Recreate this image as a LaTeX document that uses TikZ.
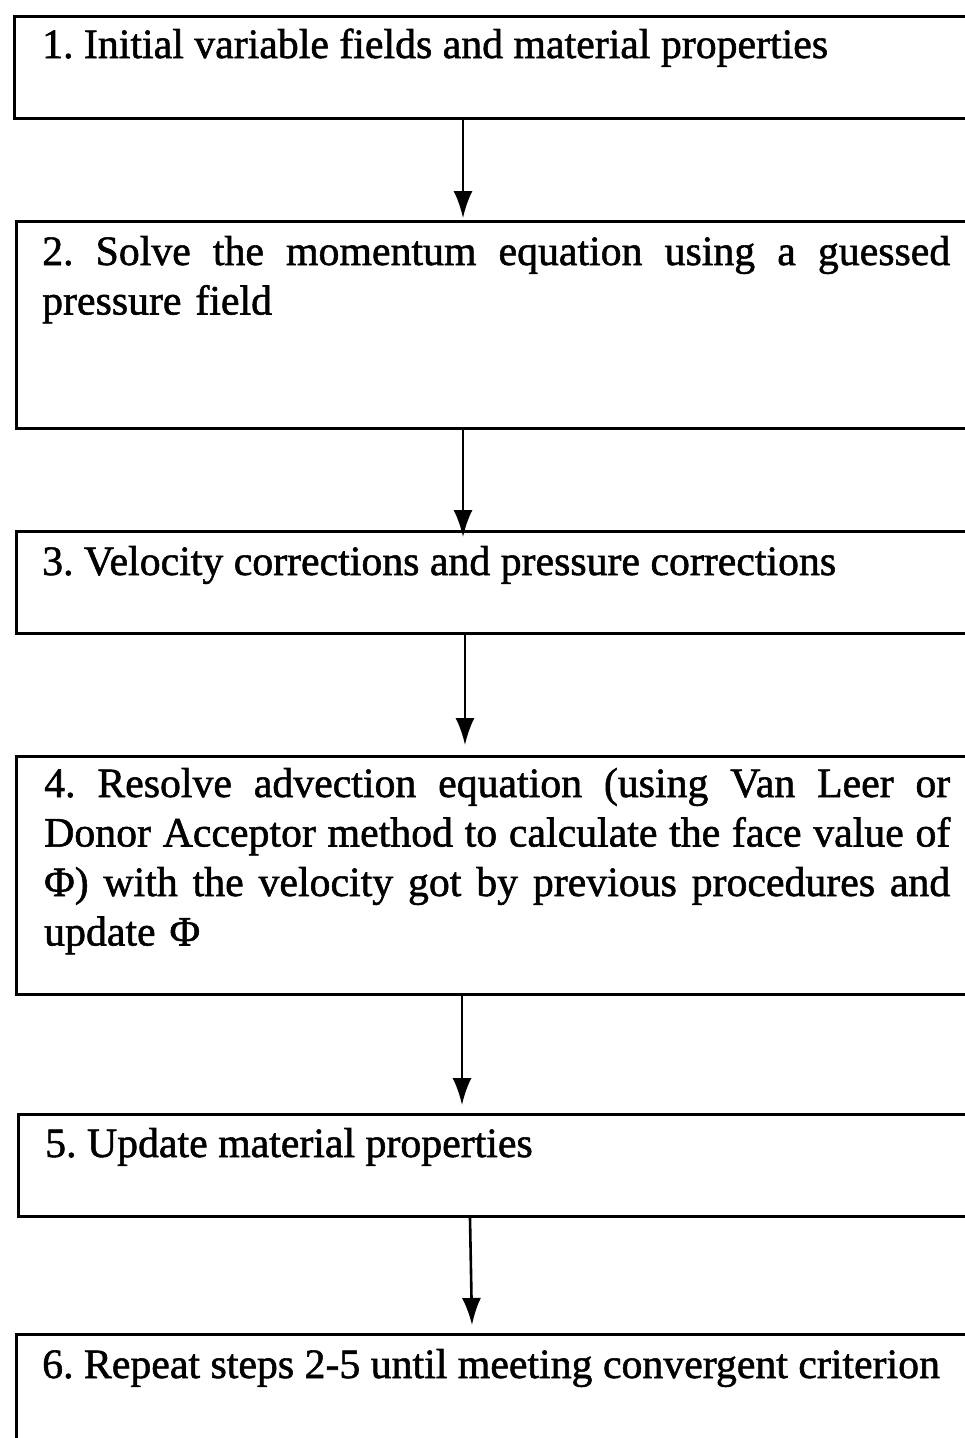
\documentclass[tikz,border=0pt]{standalone}
\usepackage{fontspec}
\setmainfont{Liberation Serif}[UprightFeatures={FakeBold=1.3}]
\usetikzlibrary{arrows.meta,calc}
\frenchspacing
\newcommand\jgap{\hskip 0.2em plus 1fil\relax}
\newcommand\jline[2]{\leavevmode\hbox to #1{#2}}
\tikzset{
  stepbox/.style={draw=black, line width=3.2pt, anchor=north west, inner sep=0pt, minimum width=1100pt},
  txt/.style={anchor=base west, inner sep=0pt, font=\fontsize{41.8}{49.5}\selectfont},
  jtxt/.style={txt, text width=#1, align=left},
  arr/.style={draw=black, line width=2.6pt, -{Latex[length=27pt,width=19pt]}}
}
\begin{document}
\begin{tikzpicture}[x=1pt,y=-1pt]
\useasboundingbox (0,0) rectangle (965,1438);
\fill[white] (0,0) rectangle (965,1438);
\clip (0,0) rectangle (965,1438);
% boxes
\node[stepbox, minimum height=102pt] (b1) at (13,15) {};
\node[stepbox, minimum height=207pt] (b2) at (15,220) {};
\node[stepbox, minimum height=102pt] (b3) at (15,530) {};
\node[stepbox, minimum height=238pt] (b4) at (15,755) {};
\node[stepbox, minimum height=102pt] (b5) at (17,1113) {};
\node[stepbox, minimum height=140pt] (b6) at (15,1333) {};
% texts
\node[txt] (t1) at (42,58) {1. Initial variable fields and material properties};
\node[jtxt=908pt] (t2) at (42,265) {\jline{908pt}{2.\jgap Solve\jgap the\jgap momentum\jgap equation\jgap using\jgap a\jgap guessed}\\pressure field};
\node[txt] (t3) at (42,575) {3. Velocity corrections and pressure corrections};
\node[jtxt=906pt] (t4) at (44,797) {\jline{906pt}{4.\jgap Resolve\jgap advection\jgap equation\jgap (using\jgap Van\jgap Leer\jgap or}\\\jline{906pt}{Donor\jgap Acceptor\jgap method\jgap to\jgap calculate\jgap the\jgap face\jgap value\jgap of}\\\jline{906pt}{Φ)\jgap with\jgap the\jgap velocity\jgap got\jgap by\jgap previous\jgap procedures\jgap and}\\update Φ};
\node[txt] (t5) at (45,1157) {5. Update material properties};
\node[txt] (t6) at (42,1378) {6. Repeat steps 2-5 until meeting convergent criterion};
% arrows
\draw[arr] ($(b1.south west)+(450,0)$) -- ($(b2.north west)+(448,-2)$);
\draw[arr] ($(b2.south west)+(448,0)$) -- ($(b3.north west)+(448,7)$);
\draw[arr] ($(b3.south west)+(450,0)$) -- ($(b4.north west)+(450,-10)$);
\draw[arr] ($(b4.south west)+(447,0)$) -- ($(b5.north west)+(445,-8)$);
\draw[arr] ($(b5.south west)+(453,0)$) -- ($(b6.north west)+(457,-8)$);
\end{tikzpicture}
\end{document}
